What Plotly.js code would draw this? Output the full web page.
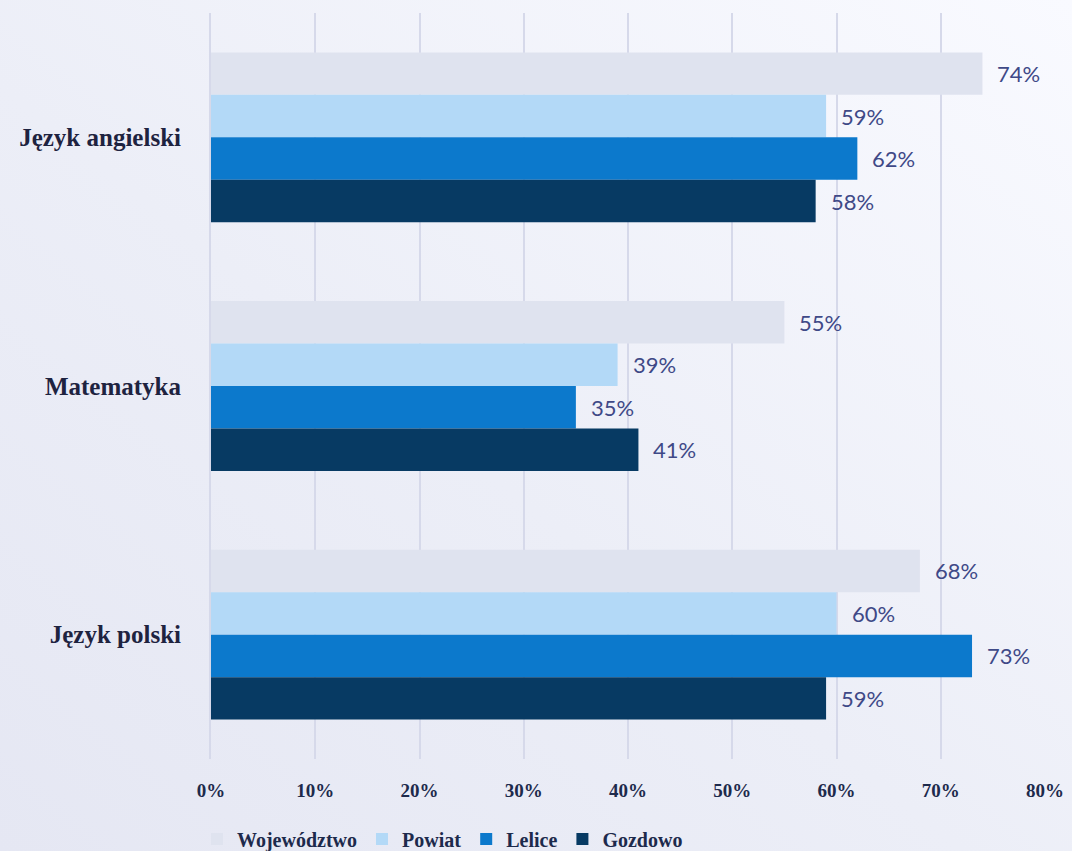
<!DOCTYPE html>
<html>
<head>
<meta charset="utf-8">
<script src="https://cdn.plot.ly/plotly-3.0.1.min.js"></script>
<style>
  html, body { margin: 0; padding: 0; }
  body {
    width: 1072px; height: 851px; overflow: hidden;
    background: linear-gradient(to top right, #e5e7f3 0%, #eceef7 45%, #f9faff 100%);
  }
  #chart { width: 1072px; height: 851px; }
</style>
</head>
<body>
<div id="chart"></div>
<script>
// Subjects (top to bottom) and exam results in percent
const subjects = ['Język angielski', 'Matematyka', 'Język polski'];
const wojewodztwo = [74, 55, 68];
const powiat = [59, 39, 60];
const lelice = [62, 35, 73];
const gozdowo = [58, 41, 59];

const seriesNames = ['Województwo', 'Powiat', 'Lelice', 'Gozdowo'];
const seriesColors = ['#dfe3ef', '#b3d9f7', '#0c79cc', '#073a63'];
const seriesValues = [wojewodztwo, powiat, lelice, gozdowo];

const tickValues = [0, 10, 20, 30, 40, 50, 60, 70, 80];

const W = 1072, H = 851;
const margin = { l: 211, r: 27, t: 12.5, b: 91.5, autoexpand: false };
const bargap = 0.317;
const plotH = H - margin.t - margin.b;
const plotW = W - margin.l - margin.r;
const barPx = plotH / subjects.length * (1 - bargap) / seriesNames.length;

const traces = seriesNames.map((name, i) => ({
  type: 'bar',
  orientation: 'h',
  name: name,
  y: subjects,
  x: seriesValues[i],
  marker: { color: seriesColors[i], line: { width: 0 } },
  hoverinfo: 'skip'
}));

// Value labels placed just right of each bar end
const annotations = [];
seriesValues.forEach((vals, i) => {
  vals.forEach((v, j) => {
    annotations.push({
      x: v, y: subjects[j], xref: 'x', yref: 'y',
      text: v + '%', showarrow: false,
      xanchor: 'left', yanchor: 'middle',
      xshift: 13, yshift: (1.5 - i) * barPx,
      font: { family: 'Lato, "Open Sans", sans-serif', size: 22, color: '#3f4987' }
    });
  });
});

const layout = {
  width: W, height: H,
  margin: margin,
  paper_bgcolor: 'rgba(0,0,0,0)',
  plot_bgcolor: 'rgba(0,0,0,0)',
  barmode: 'group',
  bargap: bargap,
  bargroupgap: 0,
  showlegend: true,
  legend: {
    orientation: 'h',
    x: -14 / plotW, xanchor: 'left',
    y: -80 / plotH, yanchor: 'middle',
    font: { family: '"Liberation Serif", serif', size: 20, color: '#1d2a4c', weight: 'bold' },
    bgcolor: 'rgba(0,0,0,0)',
    traceorder: 'normal',
    itemclick: false
  },
  xaxis: {
    range: [0, 80],
    tickvals: tickValues,
    ticktext: tickValues.map(v => v + '%'),
    showgrid: true,
    gridcolor: '#d6d9ea',
    gridwidth: 2,
    zeroline: false,
    showline: false,
    ticks: 'outside',
    ticklen: 14,
    tickcolor: 'rgba(0,0,0,0)',
    tickfont: { family: '"Liberation Serif", serif', size: 19, color: '#1d2a4c', weight: 'bold' },
    fixedrange: true
  },
  yaxis: {
    type: 'category',
    autorange: 'reversed',
    showgrid: false,
    zeroline: false,
    showline: true,
    linecolor: '#d6d9ea',
    linewidth: 2,
    ticks: 'outside',
    ticklen: 23,
    tickcolor: 'rgba(0,0,0,0)',
    tickfont: { family: '"Liberation Serif", serif', size: 25, color: '#1e2340', weight: 'bold' },
    fixedrange: true
  },
  annotations: annotations
};

Plotly.newPlot('chart', traces, layout, { displayModeBar: false, staticPlot: true });
</script>
</body>
</html>
